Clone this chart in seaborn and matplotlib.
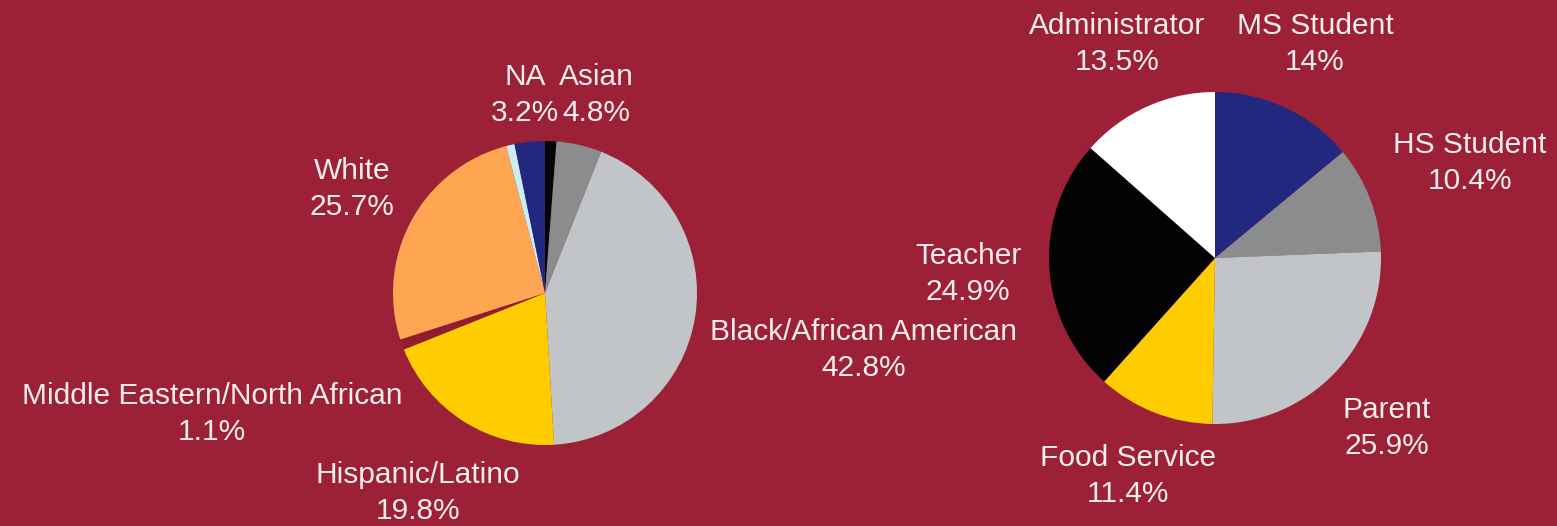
import matplotlib
matplotlib.use("Agg")
import matplotlib.pyplot as plt
import seaborn as sns

# left pie: race / ethnicity (clockwise from 12 o'clock)
race_labels = ["Other", "Asian", "Black/African American", "Hispanic/Latino",
               "Middle Eastern/North African", "White", "Pacific Islander", "NA"]
race_values = [1.2, 4.8, 42.8, 19.8, 1.1, 25.7, 0.9, 3.2]
race_colors = ["#050505", "#8a8c8e", "#c1c5c7", "#ffcc00",
               "#8f1c31", "#ffa652", "#c8eef8", "#22287e"]

# right pie: role (clockwise from 12 o'clock)
role_labels = ["MS Student", "HS Student", "Parent", "Food Service", "Teacher", "Administrator"]
role_values = [14.0, 10.4, 25.9, 11.4, 24.9, 13.5]
role_colors = ["#22287e", "#8a8c8e", "#c1c5c7", "#ffcc00", "#030303", "#ffffff"]

# label text + where they sit (pixel centres, top-left origin)
race_text = {
    "NA": ("NA\n3.2%", 525, 95),
    "Asian": ("Asian\n4.8%", 596, 95),
    "White": ("White\n25.7%", 352, 189),
    "Middle Eastern/North African": ("Middle Eastern/North African\n1.1%", 212, 414),
    "Hispanic/Latino": ("Hispanic/Latino\n19.8%", 418, 493),
    "Black/African American": ("Black/African American\n42.8%", 864, 350),
}
role_text = {
    "Administrator": ("Administrator\n13.5%", 1117, 44),
    "MS Student": ("MS Student\n14%", 1315, 44),
    "HS Student": ("HS Student\n10.4%", 1470, 163),
    "Teacher": ("Teacher\n24.9%", 968, 274),
    "Parent": ("Parent\n25.9%", 1387, 428),
    "Food Service": ("Food Service\n11.4%", 1128, 476),
}

BG = "#9d2136"
W, H = 1557, 526

sns.set_theme(style="white")
plt.rcParams["font.family"] = ["Liberation Sans", "DejaVu Sans"]

fig = plt.figure(figsize=(W / 100, H / 100), dpi=100, facecolor=BG)


def draw_pie(cx, cy, r, values, colors):
    ax = fig.add_axes([(cx - r) / W, (H - cy - r) / H, 2 * r / W, 2 * r / H])
    ax.pie(values, colors=colors, startangle=90, counterclock=False,
           radius=1, wedgeprops=dict(linewidth=0))
    # pie() resets limits, so pin them afterwards
    ax.set_xlim(-1, 1)
    ax.set_ylim(-1, 1)
    ax.set_aspect("equal")
    ax.axis("off")
    return ax


ax1 = draw_pie(545, 293, 152, race_values, race_colors)
ax2 = draw_pie(1215, 258, 166, role_values, role_colors)

for txt, x, y in list(race_text.values()) + list(role_text.values()):
    fig.text(x / W, 1 - y / H, txt, ha="center", va="center", fontsize=21.5,
             color="#f7eef0", linespacing=1.38)

fig.savefig("out.png", dpi=100, facecolor=BG)
